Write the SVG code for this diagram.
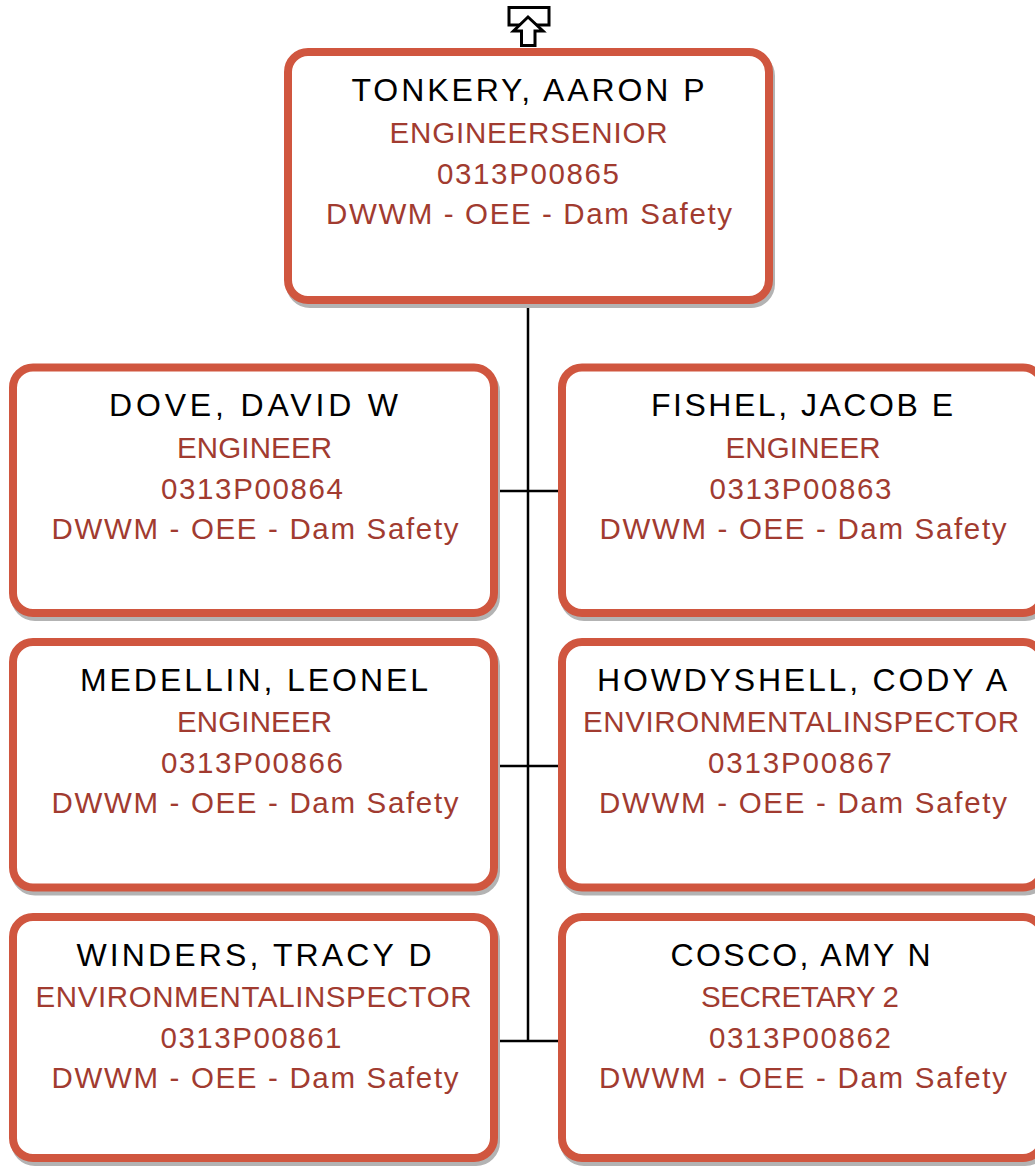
<svg xmlns="http://www.w3.org/2000/svg" width="1035" height="1168" viewBox="0 0 1035 1168">
<style>
.sh{fill:#b3b3b3;stroke:#b3b3b3;stroke-width:8}
.bx{fill:#ffffff;stroke:#D0563F;stroke-width:8}
.nm{font-family:"Liberation Sans",Arial,sans-serif;font-size:32px;fill:#000000;text-anchor:middle}
.rd{font-family:"Liberation Sans",Arial,sans-serif;font-size:29.5px;fill:#A13B30;text-anchor:middle}
.cn{stroke:#000000;stroke-width:2.5;fill:none}
</style>
<rect width="1035" height="1168" fill="#ffffff"/>
<g id="connectors">
<line class="cn" x1="528" y1="304" x2="528" y2="1041"/>
<line class="cn" x1="497" y1="491" x2="558" y2="491"/>
<line class="cn" x1="497" y1="766" x2="558" y2="766"/>
<line class="cn" x1="497" y1="1041" x2="558" y2="1041"/>
</g>
<g id="up-icon">
<rect x="509" y="7.5" width="40" height="17.5" fill="#ffffff" stroke="#000000" stroke-width="3"/>
<polygon points="528,17 513.5,31 521.5,31 521.5,45.5 535,45.5 535,31 543,31" fill="#ffffff" stroke="#000000" stroke-width="3" stroke-linejoin="miter"/>
</g>
<g id="node-tonkery">
<rect class="sh" x="290" y="56" width="481" height="248" rx="20"/>
<rect class="bx" x="288" y="52" width="481" height="248" rx="20"/>
<text class="nm" x="528" y="100.5" textLength="353" lengthAdjust="spacing">TONKERY, AARON P</text>
<text class="rd" x="528.5" y="143" textLength="278" lengthAdjust="spacing">ENGINEERSENIOR</text>
<text class="rd" x="528" y="184" textLength="182" lengthAdjust="spacing">0313P00865</text>
<text class="rd" x="529" y="224" textLength="406" lengthAdjust="spacing">DWWM - OEE - Dam Safety</text>
</g>
<g id="node-dove">
<rect class="sh" x="15" y="371.5" width="481" height="245.5" rx="20"/>
<rect class="bx" x="13" y="367.5" width="481" height="245.5" rx="20"/>
<text class="nm" x="253.5" y="416" textLength="289" lengthAdjust="spacing">DOVE, DAVID W</text>
<text class="rd" x="254.5" y="457.5" textLength="155" lengthAdjust="spacing">ENGINEER</text>
<text class="rd" x="252" y="498.5" textLength="182" lengthAdjust="spacing">0313P00864</text>
<text class="rd" x="255" y="538.5" textLength="407" lengthAdjust="spacing">DWWM - OEE - Dam Safety</text>
</g>
<g id="node-fishel">
<rect class="sh" x="564" y="371.5" width="481" height="245.5" rx="20"/>
<rect class="bx" x="562" y="367.5" width="481" height="245.5" rx="20"/>
<text class="nm" x="802" y="416" textLength="302" lengthAdjust="spacing">FISHEL, JACOB E</text>
<text class="rd" x="803" y="457.5" textLength="155" lengthAdjust="spacing">ENGINEER</text>
<text class="rd" x="800.5" y="498.5" textLength="182" lengthAdjust="spacing">0313P00863</text>
<text class="rd" x="803" y="538.5" textLength="407" lengthAdjust="spacing">DWWM - OEE - Dam Safety</text>
</g>
<g id="node-medellin">
<rect class="sh" x="15" y="646" width="481" height="245.5" rx="20"/>
<rect class="bx" x="13" y="642" width="481" height="245.5" rx="20"/>
<text class="nm" x="254" y="690.5" textLength="348" lengthAdjust="spacing">MEDELLIN, LEONEL</text>
<text class="rd" x="254.5" y="732" textLength="155" lengthAdjust="spacing">ENGINEER</text>
<text class="rd" x="252" y="773" textLength="182" lengthAdjust="spacing">0313P00866</text>
<text class="rd" x="255" y="813" textLength="407" lengthAdjust="spacing">DWWM - OEE - Dam Safety</text>
</g>
<g id="node-howdyshell">
<rect class="sh" x="564" y="646" width="481" height="245.5" rx="20"/>
<rect class="bx" x="562" y="642" width="481" height="245.5" rx="20"/>
<text class="nm" x="802" y="690.5" textLength="410" lengthAdjust="spacing">HOWDYSHELL, CODY A</text>
<text class="rd" x="801" y="732" textLength="436" lengthAdjust="spacing">ENVIRONMENTALINSPECTOR</text>
<text class="rd" x="800" y="773" textLength="184" lengthAdjust="spacing">0313P00867</text>
<text class="rd" x="803" y="813" textLength="408" lengthAdjust="spacing">DWWM - OEE - Dam Safety</text>
</g>
<g id="node-winders">
<rect class="sh" x="15" y="921" width="481" height="241" rx="20"/>
<rect class="bx" x="13" y="917" width="481" height="241" rx="20"/>
<text class="nm" x="254" y="965.5" textLength="355" lengthAdjust="spacing">WINDERS, TRACY D</text>
<text class="rd" x="253.5" y="1007" textLength="436" lengthAdjust="spacing">ENVIRONMENTALINSPECTOR</text>
<text class="rd" x="251" y="1048" textLength="181" lengthAdjust="spacing">0313P00861</text>
<text class="rd" x="255" y="1088" textLength="407" lengthAdjust="spacing">DWWM - OEE - Dam Safety</text>
</g>
<g id="node-cosco">
<rect class="sh" x="564" y="921" width="481" height="241" rx="20"/>
<rect class="bx" x="562" y="917" width="481" height="241" rx="20"/>
<text class="nm" x="800.5" y="965.5" textLength="260" lengthAdjust="spacing">COSCO, AMY N</text>
<text class="rd" x="800" y="1007" textLength="198" lengthAdjust="spacing">SECRETARY 2</text>
<text class="rd" x="800" y="1048" textLength="182" lengthAdjust="spacing">0313P00862</text>
<text class="rd" x="803" y="1088" textLength="408" lengthAdjust="spacing">DWWM - OEE - Dam Safety</text>
</g>
</svg>
